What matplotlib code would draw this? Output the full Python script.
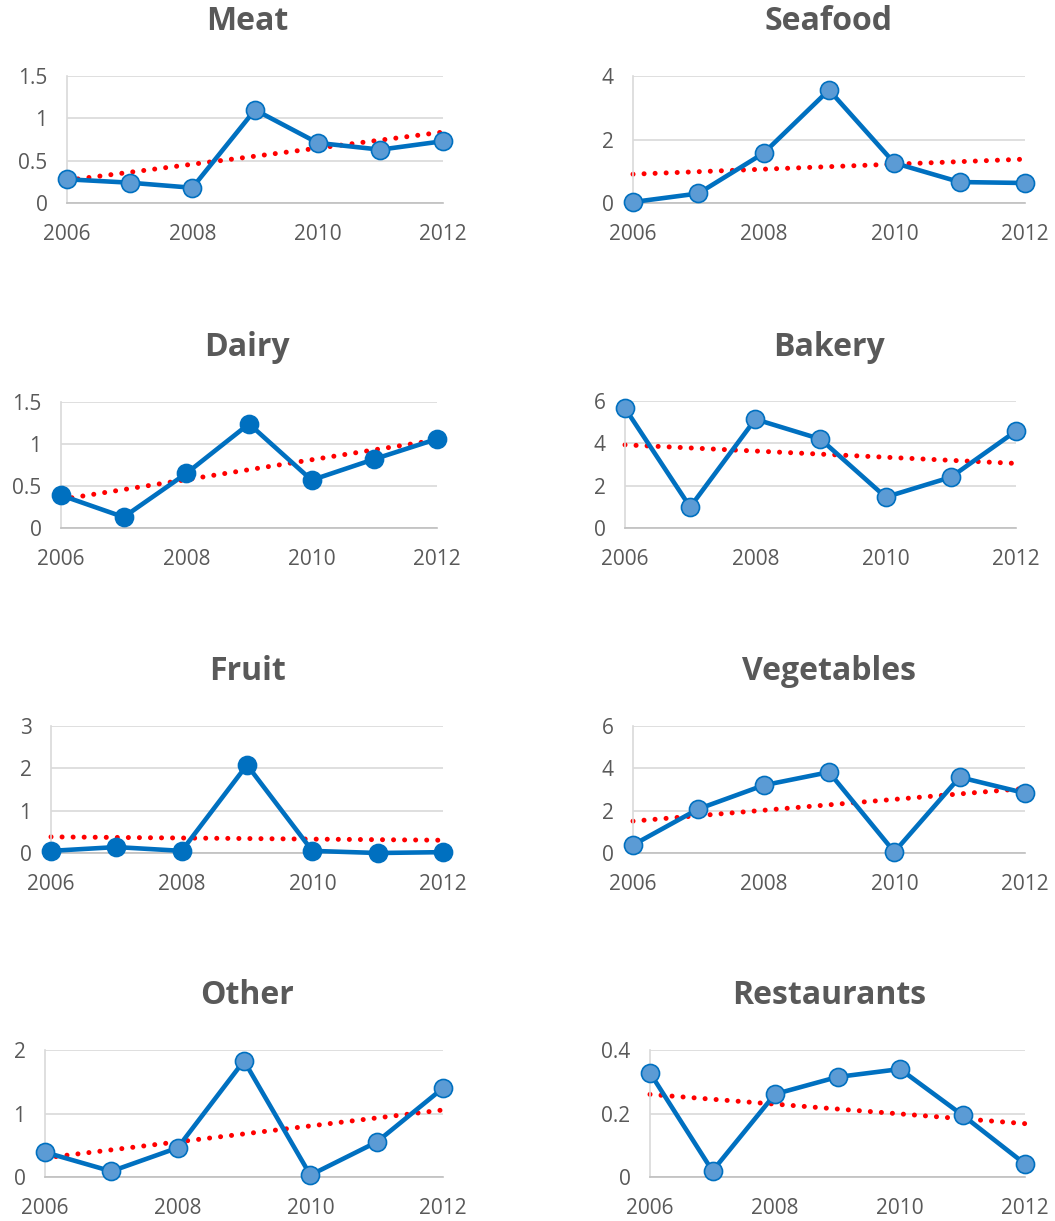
import numpy as np
import matplotlib
matplotlib.use("Agg")
import matplotlib.pyplot as plt
from matplotlib.ticker import FuncFormatter

years = [2006, 2007, 2008, 2009, 2010, 2011, 2012]
categories = ["Meat", "Seafood", "Dairy", "Bakery", "Fruit", "Vegetables", "Other", "Restaurants"]

meat = [0.28, 0.24, 0.18, 1.10, 0.71, 0.63, 0.73]
seafood = [0.03, 0.30, 1.57, 3.56, 1.26, 0.66, 0.63]
dairy = [0.39, 0.13, 0.65, 1.24, 0.57, 0.82, 1.06]
bakery = [5.66, 0.99, 5.14, 4.20, 1.46, 2.40, 4.58]
fruit = [0.05, 0.14, 0.05, 2.08, 0.05, 0.00, 0.02]
vegetables = [0.38, 2.08, 3.20, 3.82, 0.05, 3.58, 2.83]
other = [0.39, 0.09, 0.46, 1.83, 0.03, 0.55, 1.40]
restaurants = [0.328, 0.019, 0.261, 0.315, 0.340, 0.195, 0.041]

series = [meat, seafood, dairy, bakery, fruit, vegetables, other, restaurants]
yticks = [
    [0, 0.5, 1, 1.5],
    [0, 2, 4],
    [0, 0.5, 1, 1.5],
    [0, 2, 4, 6],
    [0, 1, 2, 3],
    [0, 2, 4, 6],
    [0, 1, 2],
    [0, 0.2, 0.4],
]
xticks = [2006, 2008, 2010, 2012]

# pixel boxes of the plot areas (left, right, top, bottom)
W, H = 1055, 1221
boxes = [
    (67, 443, 76, 203), (633, 1025, 76, 203),
    (61, 437, 402, 528), (625, 1016, 401, 528),
    (51, 443, 726, 853), (633, 1025, 726, 853),
    (45, 443, 1050, 1177), (650, 1025, 1050, 1177),
]
title_y = [22, 22, 347, 347, 672, 672, 996, 996]
title_x = [247, 829] * 4
dark_markers = {"Dairy", "Fruit"}

plt.rcParams["font.family"] = ["Open Sans", "DejaVu Sans"]
txt = "#595959"
blue = "#0070C0"
light = "#5B9BD5"

fig = plt.figure(figsize=(W / 100, H / 100), dpi=100)

def fmt(v, pos):
    return ("%g" % v)

for i, name in enumerate(categories):
    l, r, t, b = boxes[i]
    ax = fig.add_axes([l / W, 1 - b / H, (r - l) / W, (b - t) / H])
    vals = np.array(series[i])
    yrs = np.array(years)

    # linear trend line
    k, c = np.polyfit(yrs, vals, 1)
    ax.plot(yrs, k * yrs + c, color="red", lw=3.6, linestyle=(0, (0.01, 2.2)),
            dash_capstyle="round", zorder=2, clip_on=False)

    face = blue if name in dark_markers else light
    ax.plot(yrs, vals, color=blue, lw=3.3, marker="o", markersize=13,
            markerfacecolor=face, markeredgecolor=blue, markeredgewidth=1.2,
            zorder=3, clip_on=False)

    ax.set_xlim(2006, 2012)
    ax.set_ylim(0, yticks[i][-1])
    ax.set_xticks(xticks)
    ax.set_yticks(yticks[i])
    ax.yaxis.set_major_formatter(FuncFormatter(fmt))
    ax.grid(axis="y", color="#d9d9d9", lw=1.2)
    ax.set_axisbelow(True)
    for s in ["top", "right"]:
        ax.spines[s].set_visible(False)
    ax.spines["left"].set_color("#d9d9d9")
    ax.spines["left"].set_linewidth(1.2)
    ax.spines["bottom"].set_color("#bfbfbf")
    ax.spines["bottom"].set_linewidth(1.2)
    ax.tick_params(length=0, labelsize=15, labelcolor=txt)
    ax.tick_params(axis="x", pad=15)
    ax.tick_params(axis="y", pad=14)

    fig.text(title_x[i] / W, 1 - title_y[i] / H, name, ha="center", va="center",
             fontsize=23, fontweight="bold", color=txt)

fig.savefig("out.png", dpi=100)
